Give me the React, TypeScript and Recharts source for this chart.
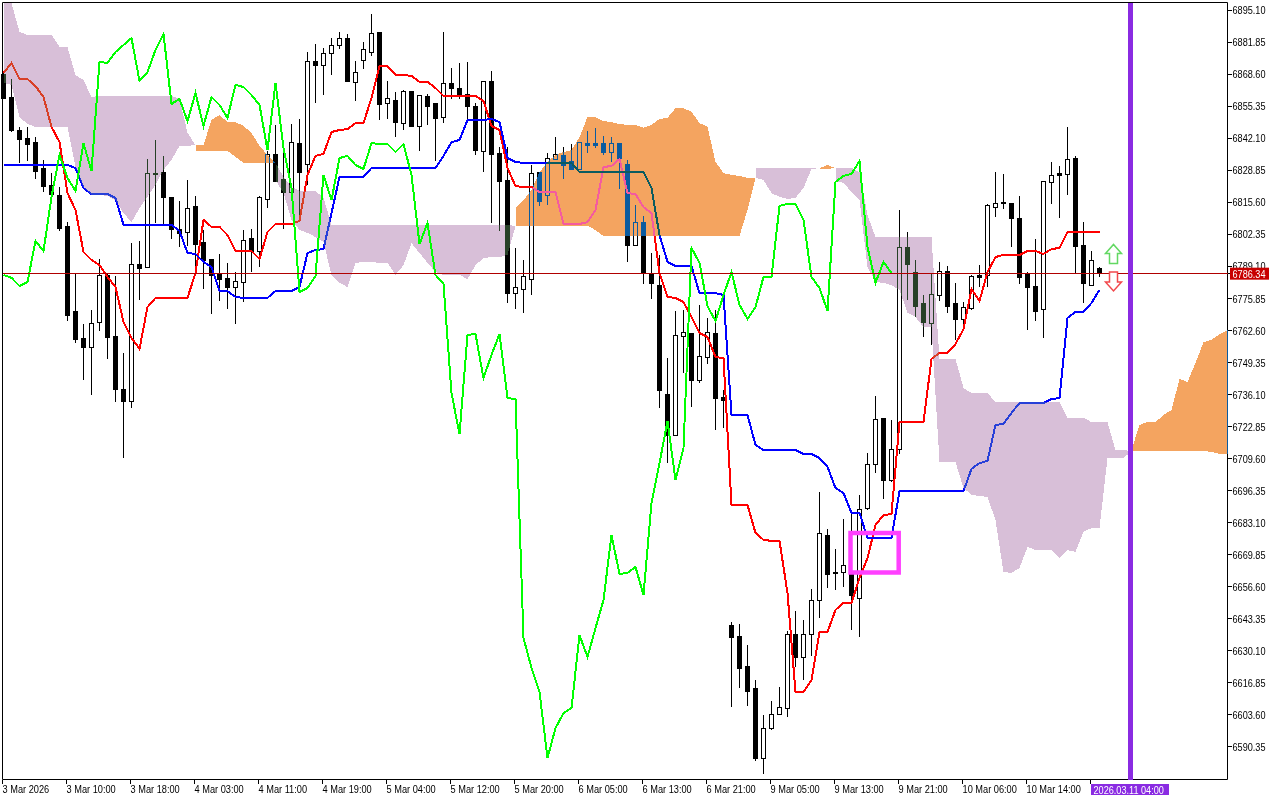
import React from "react";
import {
  ComposedChart,
  Bar,
  Line,
  Area,
  XAxis,
  YAxis,
  ReferenceLine,
  ReferenceArea,
  ReferenceDot,
} from "recharts";

const FONT = "'Liberation Sans', sans-serif";
const priceMin = 6576.69;
const priceMax = 6898.41;
const indexMin = -0.125;
const indexMax = 153;
const currentPrice = 6786.34;
const cursorIndex = 140.875;

const priceTicks = [
  6895.1, 6881.85, 6868.6, 6855.35, 6842.1, 6828.85, 6815.6, 6802.35, 6789.1, 6775.85, 6762.6, 6749.35,
  6736.1, 6722.85, 6709.6, 6696.35, 6683.1, 6669.85, 6656.6, 6643.35, 6630.1, 6616.85, 6603.6, 6590.35,
];
const timeLabels = [
  "3 Mar 2026", "3 Mar 10:00", "3 Mar 18:00", "4 Mar 03:00", "4 Mar 11:00", "4 Mar 19:00",
  "5 Mar 04:00", "5 Mar 12:00", "5 Mar 20:00", "6 Mar 05:00", "6 Mar 13:00", "6 Mar 21:00",
  "9 Mar 05:00", "9 Mar 13:00", "9 Mar 21:00", "10 Mar 06:00", "10 Mar 14:00", "2026.03.11 04:00",
];
const timeTickIndexes = [
  -0.125, 7.875, 15.875, 23.875, 31.875, 39.875, 47.875, 55.875, 63.875, 71.875, 79.875, 87.875, 95.875,
  103.875, 111.875, 119.875, 127.875, 135.875,
];

// open, high, low, close
const candles = [
  [6868.4, 6869.6, 6858.5, 6858.5], [6858.9, 6867.1, 6844.8, 6845.6], [6845.6, 6846.9, 6832.0, 6841.5], [6842.3, 6846.9, 6832.8, 6839.8],
  [6840.6, 6843.1, 6825.7, 6828.6], [6829.5, 6833.2, 6820.0, 6822.4], [6822.8, 6828.2, 6819.1, 6819.1], [6818.7, 6822.4, 6803.8, 6805.0],
  [6805.5, 6807.9, 6766.9, 6769.0], [6770.3, 6786.4, 6757.8, 6758.7], [6759.1, 6765.3, 6742.5, 6755.4], [6755.4, 6771.1, 6735.9, 6765.7],
  [6766.1, 6792.6, 6762.8, 6785.2], [6785.2, 6786.8, 6751.2, 6759.9], [6760.3, 6785.2, 6733.0, 6738.0], [6738.0, 6753.3, 6710.2, 6733.4],
  [6733.4, 6799.2, 6730.9, 6790.1], [6790.1, 6799.7, 6775.6, 6788.1], [6788.5, 6834.0, 6788.5, 6827.8], [6827.8, 6841.5, 6807.5, 6827.0],
  [6828.2, 6834.9, 6806.3, 6817.5], [6817.5, 6817.9, 6800.9, 6804.6], [6804.6, 6816.6, 6797.2, 6802.6], [6803.0, 6825.3, 6798.0, 6813.3],
  [6814.1, 6818.3, 6788.9, 6798.4], [6799.2, 6804.6, 6779.8, 6791.4], [6792.2, 6792.2, 6769.5, 6785.2], [6785.6, 6794.3, 6775.2, 6783.9],
  [6784.3, 6790.6, 6771.9, 6780.6], [6780.6, 6787.2, 6765.7, 6782.7], [6782.3, 6804.6, 6774.8, 6799.7], [6800.5, 6805.0, 6787.2, 6795.5],
  [6795.5, 6818.7, 6788.9, 6817.5], [6817.0, 6837.3, 6813.7, 6835.3], [6835.3, 6847.7, 6824.5, 6824.5], [6825.3, 6837.3, 6805.0, 6819.9],
  [6819.9, 6848.5, 6819.9, 6840.6], [6840.2, 6850.2, 6810.8, 6828.2], [6831.5, 6878.3, 6822.9, 6873.8], [6873.8, 6881.6, 6856.8, 6872.5],
  [6872.5, 6879.6, 6860.5, 6877.5], [6877.5, 6884.1, 6868.8, 6880.8], [6880.8, 6886.2, 6879.2, 6883.7], [6883.3, 6885.4, 6865.5, 6865.5],
  [6865.1, 6874.6, 6858.0, 6869.6], [6874.2, 6882.1, 6870.9, 6878.8], [6877.9, 6893.7, 6876.3, 6885.4], [6885.8, 6886.2, 6849.8, 6856.0],
  [6856.4, 6866.3, 6850.2, 6858.5], [6858.0, 6861.4, 6843.1, 6848.9], [6848.5, 6862.2, 6846.0, 6861.4], [6861.4, 6861.8, 6846.9, 6846.9],
  [6846.9, 6860.1, 6837.3, 6859.7], [6859.3, 6860.9, 6848.1, 6855.5], [6856.4, 6857.2, 6832.8, 6850.2], [6850.6, 6886.6, 6848.9, 6864.7],
  [6864.7, 6871.3, 6858.5, 6862.6], [6863.0, 6873.4, 6858.5, 6859.7], [6860.5, 6873.8, 6849.8, 6855.5], [6855.5, 6857.2, 6835.3, 6837.3],
  [6836.9, 6865.5, 6828.6, 6865.5], [6865.9, 6870.1, 6807.5, 6835.3], [6835.7, 6838.6, 6804.2, 6824.5], [6824.9, 6838.6, 6774.0, 6778.1],
  [6778.1, 6796.8, 6771.9, 6780.2], [6779.4, 6792.2, 6769.9, 6784.8], [6783.9, 6831.5, 6777.3, 6827.4], [6828.2, 6828.2, 6814.2, 6816.2],
  [6818.7, 6836.1, 6814.6, 6834.0], [6833.2, 6843.1, 6833.2, 6835.3], [6834.9, 6838.6, 6825.7, 6831.1], [6832.4, 6840.2, 6829.1, 6829.1],
  [6829.1, 6840.6, 6829.1, 6840.6], [6840.2, 6845.6, 6836.1, 6839.4], [6840.2, 6846.5, 6838.2, 6839.4], [6840.2, 6843.5, 6835.3, 6836.1],
  [6836.1, 6843.1, 6832.4, 6840.2], [6840.2, 6840.6, 6821.6, 6834.0], [6831.5, 6833.2, 6791.0, 6798.0], [6798.0, 6814.6, 6797.6, 6807.5],
  [6807.5, 6810.4, 6781.9, 6786.0], [6786.4, 6794.7, 6776.0, 6781.9], [6781.4, 6793.9, 6730.9, 6737.6], [6736.3, 6751.6, 6708.1, 6719.3],
  [6719.3, 6770.7, 6719.3, 6760.7], [6760.3, 6771.5, 6745.4, 6761.6], [6761.2, 6761.6, 6731.3, 6742.1], [6741.7, 6773.2, 6740.9, 6752.0],
  [6751.6, 6767.8, 6749.1, 6761.6], [6761.2, 6771.1, 6721.8, 6734.6], [6735.0, 6738.0, 6722.6, 6733.8], [6640.3, 6642.3, 6607.1, 6635.3],
  [6635.7, 6641.1, 6614.6, 6622.5], [6623.3, 6632.4, 6607.5, 6613.3], [6614.2, 6617.9, 6584.4, 6585.2], [6585.2, 6603.4, 6579.0, 6598.0],
  [6597.6, 6609.2, 6597.2, 6603.8], [6603.8, 6615.4, 6603.8, 6606.3], [6605.9, 6638.2, 6602.6, 6636.9], [6636.9, 6646.5, 6623.3, 6627.0],
  [6627.4, 6643.1, 6618.3, 6636.9], [6636.9, 6655.6, 6628.2, 6651.0], [6651.0, 6696.1, 6643.6, 6678.4], [6677.9, 6680.8, 6656.0, 6661.4],
  [6662.6, 6672.5, 6655.2, 6662.2], [6662.6, 6684.6, 6656.4, 6665.1], [6662.6, 6687.0, 6638.6, 6652.7], [6651.8, 6694.5, 6636.1, 6688.3],
  [6689.1, 6711.9, 6688.3, 6707.3], [6707.3, 6735.5, 6704.0, 6725.6], [6726.0, 6726.0, 6693.2, 6700.3], [6700.3, 6725.6, 6699.9, 6713.5],
  [6713.5, 6812.9, 6711.5, 6796.8], [6796.8, 6803.4, 6775.6, 6790.1], [6786.8, 6792.2, 6768.2, 6772.7], [6773.6, 6777.7, 6760.3, 6766.1],
  [6765.7, 6786.4, 6757.0, 6777.7], [6776.9, 6791.0, 6775.2, 6787.2], [6787.2, 6789.7, 6769.9, 6772.7], [6773.6, 6782.3, 6758.7, 6767.0],
  [6767.0, 6774.8, 6764.0, 6772.3], [6771.9, 6785.6, 6771.1, 6784.8], [6785.2, 6790.1, 6781.0, 6784.4], [6785.2, 6815.0, 6781.0, 6814.2],
  [6813.7, 6828.6, 6810.0, 6815.0], [6815.4, 6827.4, 6813.3, 6815.0], [6815.0, 6815.4, 6797.2, 6808.8], [6808.8, 6818.7, 6781.9, 6784.4],
  [6785.6, 6787.2, 6763.2, 6780.2], [6781.0, 6800.9, 6766.9, 6770.3], [6771.1, 6824.5, 6759.5, 6824.5], [6823.7, 6832.4, 6815.0, 6826.6],
  [6827.4, 6831.1, 6809.2, 6826.6], [6827.0, 6846.9, 6819.1, 6833.2], [6834.0, 6834.9, 6786.4, 6797.2], [6798.0, 6807.9, 6774.4, 6781.9],
  [6781.4, 6795.9, 6781.4, 6791.4], [6788.1, 6789.3, 6784.8, 6786.0],
];

const tenkan = [
  6869.2, 6873.4, 6866.7, 6866.7, 6863.8, 6859.3, 6846.9, 6840.6, 6819.5, 6812.5, 6795.1, 6791.8, 6789.7, 6784.8, 6780.6, 6766.1, 6759.5, 6755.0, 6772.3,
  6776.1, 6776.1, 6776.1, 6776.1, 6776.1, 6786.4, 6808.4, 6805.5, 6805.5, 6802.1, 6795.5, 6795.5, 6795.5, 6792.2, 6803.4, 6806.7, 6806.7, 6806.7, 6808.0,
  6827.0, 6834.9, 6835.7, 6844.8, 6845.6, 6846.0, 6848.5, 6848.5, 6858.9, 6872.1, 6872.1, 6868.4, 6868.4, 6868.0, 6865.5, 6865.5, 6863.0,
  6859.7, 6859.7, 6859.7, 6859.7, 6859.7, 6857.6, 6847.3, 6845.6, 6829.9, 6822.4, 6822.0, 6822.0, 6819.9, 6819.9, 6819.9, 6806.7, 6806.7, 6806.7,
  6807.5, 6812.5, 6830.3, 6830.7, 6833.6, 6819.5, 6819.1, 6813.7, 6811.2, 6786.4, 6776.5, 6776.1, 6774.4, 6768.2, 6761.6, 6759.9, 6751.6, 6751.2,
  6690.4, 6690.4, 6690.4, 6678.8, 6675.9, 6675.5, 6675.5, 6653.9, 6612.9, 6612.9, 6617.9, 6637.8, 6637.8, 6646.9, 6649.8, 6649.8, 6660.1, 6668.4,
  6682.1, 6686.2, 6686.6, 6724.7, 6724.7, 6724.7, 6724.7, 6750.8, 6753.3, 6753.3, 6757.0, 6763.2, 6779.8, 6774.8, 6786.8, 6793.0, 6793.9, 6793.9, 6793.9,
  6795.5, 6795.5, 6794.3, 6796.3, 6796.8, 6803.4, 6803.4, 6803.4, 6803.4, 6803.4,
];

const kijun = [
  6831.1, 6831.1, 6831.1, 6831.1, 6831.1, 6831.1, 6831.1, 6831.1, 6831.1, 6829.9, 6821.6, 6819.1, 6819.1, 6819.1, 6817.5,
  6806.3, 6806.3, 6806.3, 6806.3, 6806.3, 6806.3, 6806.3, 6803.8, 6794.7, 6794.3, 6791.0, 6788.9, 6778.9, 6778.9, 6776.5,
  6776.1, 6776.1, 6776.1, 6776.1, 6778.9, 6778.9, 6778.9, 6780.6, 6794.7, 6795.9, 6796.3, 6811.2, 6826.2, 6826.2, 6826.2, 6826.2,
  6829.9, 6829.9, 6829.9, 6829.9, 6829.9, 6829.9, 6829.9, 6829.9, 6829.9, 6834.9, 6840.6, 6841.5, 6849.8, 6849.8, 6849.8, 6850.2, 6848.9, 6834.0, 6832.4,
  6832.0, 6832.0, 6832.0, 6832.0, 6832.0, 6832.0, 6832.0, 6828.2, 6828.2, 6828.2, 6828.2, 6828.2, 6828.2, 6828.2, 6828.2, 6828.2,
  6821.6, 6802.1, 6791.0, 6789.3, 6789.3, 6789.3, 6778.1, 6778.1, 6778.1, 6777.3, 6727.6, 6727.6, 6727.6, 6715.2,
  6713.1, 6713.1, 6713.1, 6713.1, 6713.1, 6711.5, 6711.5, 6709.8, 6706.1, 6697.4, 6695.3, 6687.0, 6687.0, 6676.7, 6676.7, 6676.7, 6676.7,
  6696.1, 6696.1, 6696.1, 6696.1, 6696.1, 6696.1, 6696.1, 6696.1, 6696.1, 6705.3, 6707.7, 6708.6, 6723.5, 6723.9, 6728.5,
  6732.6, 6732.6, 6732.6, 6732.6, 6734.2, 6734.6, 6767.8, 6770.3, 6770.3, 6774.0, 6779.4,
];

const chikou = [
  6785.6, 6784.4, 6781.0, 6782.7, 6799.7, 6795.5, 6817.9, 6835.3, 6825.7, 6820.4, 6840.2, 6828.6, 6873.8, 6873.4, 6877.9, 6880.8, 6883.7, 6865.9, 6869.6, 6878.8,
  6885.4, 6856.4, 6858.5, 6849.3, 6860.9, 6847.3, 6859.3, 6856.0, 6850.6, 6864.3, 6863.4, 6860.1, 6856.0, 6837.3, 6865.1, 6838.2, 6821.6, 6778.5, 6780.2, 6785.2,
  6827.0, 6816.6, 6834.0, 6834.9, 6831.1, 6829.5, 6840.2, 6839.8, 6839.8, 6836.5, 6839.8, 6827.0, 6798.4, 6807.1, 6785.6, 6781.9, 6736.7, 6719.7, 6760.7, 6761.2,
  6742.9, 6752.5, 6761.2, 6734.6, 6734.2, 6635.3, 6622.9, 6612.9, 6585.6, 6598.0, 6604.2, 6606.3, 6636.5, 6627.4, 6639.4, 6651.0, 6677.9, 6661.8, 6662.2, 6664.7,
  6653.1, 6691.2, 6707.7, 6725.1, 6700.7, 6714.0, 6796.8, 6790.6, 6772.7, 6766.5, 6777.3, 6786.8, 6773.2, 6767.4, 6772.3, 6784.8, 6784.8, 6814.2, 6815.0, 6815.0,
  6808.4, 6784.8, 6780.2, 6770.7, 6824.1, 6826.6, 6827.4, 6832.8, 6797.2, 6782.3, 6791.0, 6786.4,
];

const senkouA = [
  6865.1, 6864.3, 6851.0, 6848.1, 6846.9, 6846.9, 6846.9, 6846.9, 6846.9, 6830.3, 6822.0, 6818.7, 6818.7, 6818.3, 6816.6, 6811.2, 6807.5, 6813.3, 6817.9, 6822.9,
  6829.1, 6833.2, 6839.0, 6839.0,
  6839.4, 6839.4, 6849.8, 6851.8, 6848.9, 6848.9, 6847.3, 6844.4, 6839.0, 6835.3,
  6824.9, 6819.5, 6808.4, 6804.2, 6803.0, 6801.3, 6799.2, 6785.6, 6782.3, 6780.6, 6790.6, 6791.0, 6791.0, 6790.6, 6790.6, 6785.6, 6789.7, 6798.8, 6794.7, 6790.6,
  6786.8, 6785.6, 6785.6, 6785.6, 6783.9, 6789.7, 6792.6, 6793.0, 6793.0, 6793.9,
  6813.3, 6816.6, 6820.8, 6828.2, 6832.4, 6835.3, 6836.5, 6837.3, 6842.7, 6851.0, 6851.0, 6849.3, 6848.9, 6848.1, 6847.7, 6847.7, 6846.5, 6847.7, 6850.2, 6850.6,
  6854.7, 6854.7, 6853.1, 6848.5, 6846.9, 6832.4, 6827.8, 6827.0, 6826.6, 6825.8,
  6825.8, 6824.9, 6819.5, 6817.9, 6817.1, 6817.5, 6821.6, 6829.5,
  6829.9, 6831.1,
  6824.5, 6823.7, 6820.0, 6816.6, 6788.9, 6782.7, 6782.3, 6781.4, 6779.4, 6769.9, 6768.2, 6764.0, 6764.0, 6708.1, 6708.1, 6708.1, 6697.4, 6694.5, 6694.1, 6693.7,
  6684.1, 6662.6, 6662.2, 6664.3, 6673.0, 6671.7, 6671.7, 6671.7, 6668.4, 6671.7, 6670.9, 6679.2, 6680.8, 6680.8, 6709.8, 6709.8, 6709.8,
  6713.1, 6723.5, 6724.7, 6724.7, 6727.6, 6729.7, 6742.5, 6741.3, 6749.1, 6757.8, 6758.7, 6761.1, 6762.8,
];

const senkouB = [
  6898.4, 6898.2, 6886.2, 6885.0, 6885.0, 6885.0, 6885.0, 6880.0, 6880.0, 6868.4, 6866.3, 6859.3, 6859.7, 6859.7, 6859.7, 6859.7, 6859.7, 6859.7, 6859.7, 6859.7,
  6859.7, 6859.7, 6858.5, 6844.4,
  6836.9, 6836.9, 6836.9, 6836.9, 6836.9, 6834.5, 6832.0, 6832.0, 6832.0, 6832.0,
  6832.0, 6826.2, 6822.0, 6820.4, 6820.4, 6820.4, 6817.5, 6806.3, 6806.3, 6806.3, 6806.3, 6806.3, 6806.3, 6806.3, 6806.3, 6806.3, 6806.3, 6806.3, 6806.3, 6806.3,
  6806.3, 6806.3, 6806.3, 6806.3, 6806.3, 6806.3, 6806.3, 6806.3, 6806.3, 6806.3,
  6805.9, 6805.9, 6805.9, 6805.9, 6805.9, 6805.9, 6805.9, 6805.9, 6805.9, 6805.9, 6804.2, 6801.7, 6801.7, 6801.7, 6801.7, 6801.7, 6801.7, 6801.7, 6801.7, 6801.7,
  6801.7, 6801.7, 6801.7, 6801.7, 6801.7, 6801.7, 6801.7, 6801.7, 6801.7, 6812.5,
  6829.9, 6829.9, 6829.9, 6829.9, 6829.9, 6829.9, 6829.9, 6829.9,
  6829.5, 6829.5,
  6829.9, 6829.9, 6829.9, 6828.2, 6810.4, 6801.3, 6801.3, 6801.3, 6801.3, 6801.3, 6801.3, 6801.3, 6801.3, 6750.8, 6750.8, 6750.8, 6738.8, 6736.7, 6736.7, 6736.7,
  6733.0, 6733.0, 6733.0, 6733.0, 6733.0, 6733.0, 6733.0, 6733.0, 6733.0, 6726.4, 6726.4, 6726.4, 6724.7, 6724.7, 6724.7, 6713.1, 6713.1,
  6712.7, 6712.7, 6712.7, 6712.7, 6712.7, 6712.7, 6712.7, 6712.7, 6712.7, 6712.7, 6712.3, 6711.5, 6711.5,
];

const noteBox = { x1: 105.875, x2: 111.9, top: 6678.8, bottom: 6662.4 };
const arrowMarks = [
  { index: 138.75, price: 6794.5, dir: "up", color: "#62d862" },
  { index: 138.75, price: 6782.7, dir: "down", color: "#f2484c" },
];

const chartData = senkouA.map((a, i) => {
  const b = senkouB[i];
  const c = candles[i];
  const isBull = a > b;
  const range = [Math.min(a, b), Math.max(a, b)];
  // a cloud colour closes to a point where the next bar changes colour
  let tip: number[] | null = null;
  if (i > 0 && senkouA[i - 1] > senkouB[i - 1] !== isBull) {
    const prevMid = (senkouA[i - 1] + senkouB[i - 1]) / 2;
    const near = Math.abs(a - prevMid) < Math.abs(b - prevMid) ? a : b;
    tip = [near, near];
  }
  return {
    i,
    candle: c ? { o: c[0], h: c[1], l: c[2], c: c[3] } : null,
    range: c ? [c[2], c[1]] : null,
    tenkan: i < tenkan.length ? tenkan[i] : null,
    kijun: i < kijun.length ? kijun[i] : null,
    chikou: i < chikou.length ? chikou[i] : null,
    bull: isBull ? range : tip,
    bear: !isBull ? range : tip,
  };
});

function CandleShape(props: any) {
  const { x, y, width, height, payload } = props;
  const cd = payload && payload.candle;
  if (!cd || !(height > 0)) return null;
  const k = height / (cd.h - cd.l);
  const cx = Math.floor(x + width / 2) + 0.5;
  const row = (p: number) => Math.floor(y + (cd.h - p) * k) + 0.5;
  const top = row(Math.max(cd.o, cd.c));
  const bottom = row(Math.min(cd.o, cd.c));
  const bearish = cd.c < cd.o;
  return (
    <g shapeRendering="crispEdges">
      <line x1={cx} x2={cx} y1={row(cd.h)} y2={row(cd.l)} stroke="#000" strokeWidth={1} />
      <rect x={cx - 2} y={top} width={4} height={Math.max(bottom - top, 1)} fill={bearish ? "#000" : "#fff"} stroke="#000" strokeWidth={1} />
    </g>
  );
}

function Label(props: any) {
  const { x, y, fill, children, sx } = props;
  return (
    <text transform={`translate(${x},${y}) scale(${sx},1)`} fontFamily={FONT} fontSize={11} fill={fill}>{children}</text>
  );
}

function TimeTick(props: any) {
  const { x, payload } = props;
  const pos = timeTickIndexes.indexOf(payload.value);
  const label = timeLabels[pos];
  if (label === undefined) return null;
  if (pos === timeLabels.length - 1) {
    return (
      <g>
        <rect x={x + 0.5} y={784} width={78} height={11} fill="#8a2be2" />
        <Label x={x + 3} y={793.5} fill="#fff" sx={0.83}>{label}</Label>
      </g>
    );
  }
  return <Label x={x} y={793} fill="#000" sx={0.84}>{label}</Label>;
}

function PriceTick(props: any) {
  const { y, payload } = props;
  if (payload.value === currentPrice) {
    return (
      <g>
        <rect x={1230} y={y - 5.5} width={39} height={12} fill="#c80000" />
        <Label x={1232.5} y={y + 4.5} fill="#fff" sx={0.83}>{payload.value.toFixed(2)}</Label>
      </g>
    );
  }
  return <Label x={1232.5} y={y + 4} fill="#000" sx={0.83}>{payload.value.toFixed(2)}</Label>;
}

function ArrowShape(props: any) {
  const { cx, cy, dir, color } = props;
  const s = dir === "up" ? -1 : 1;
  const pts = [
    [cx - 4, cy - s * 10],
    [cx + 4, cy - s * 10],
    [cx + 4, cy],
    [cx + 8, cy],
    [cx, cy + s * 9],
    [cx - 8, cy],
    [cx - 4, cy],
  ].map((p) => p.join(",")).join(" ");
  return <polygon points={pts} fill="#fff" stroke={color} strokeWidth={1.5} />;
}

export default function App() {
  return (
    <div style={{ position: "absolute", left: 0, top: 0, width: 1280, height: 800, background: "#fff", isolation: "isolate" }}>
      <style>{`.kumo{mix-blend-mode:difference}.kumo path{shape-rendering:crispEdges}.recharts-line-curve{shape-rendering:crispEdges}.recharts-reference-line-line,.recharts-cartesian-axis-tick-line{shape-rendering:crispEdges}`}</style>
      <ComposedChart
        width={1280}
        height={800}
        data={chartData}
        margin={{ left: 2.5, right: 0, top: 2.5, bottom: 0 }}
      >
        <XAxis
          dataKey="i"
          type="number"
          scale="linear"
          domain={[indexMin, indexMax]}
          ticks={timeTickIndexes}
          interval={0}
          height={20.5}
          axisLine={false}
          tickLine={{ stroke: "#000" }}
          tickSize={4}
          tick={<TimeTick />}
        />
        <YAxis
          orientation="right"
          type="number"
          domain={[priceMin, priceMax]}
          ticks={[...priceTicks, currentPrice]}
          interval={0}
          width={52.5}
          axisLine={false}
          tickLine={{ stroke: "#000" }}
          tickSize={4}
          tick={<PriceTick />}
        />
        <ReferenceArea x1={indexMin} x2={indexMax} y1={priceMin} y2={priceMax} fill="#fff" stroke="#000" strokeWidth={1} zIndex={0} />
        <Bar dataKey="range" barSize={7} shape={<CandleShape />} isAnimationActive={false} zIndex={300} />
        <Line dataKey="tenkan" stroke="#ff0000" strokeWidth={2} dot={false} activeDot={false} isAnimationActive={false} zIndex={310} />
        <Line dataKey="kijun" stroke="#0000ff" strokeWidth={2} dot={false} activeDot={false} isAnimationActive={false} zIndex={320} />
        <Area className="kumo" dataKey="bull" stroke="none" fill="#0b5b9f" fillOpacity={1} dot={false} activeDot={false} isAnimationActive={false} zIndex={330} />
        <Area className="kumo" dataKey="bear" stroke="none" fill="#274027" fillOpacity={1} dot={false} activeDot={false} isAnimationActive={false} zIndex={331} />
        <Line dataKey="chikou" stroke="#00ff00" strokeWidth={2} dot={false} activeDot={false} isAnimationActive={false} zIndex={340} />
        <ReferenceLine y={currentPrice} stroke="#b00000" strokeWidth={1} zIndex={350} />
        <ReferenceLine x={cursorIndex} stroke="#8a2be2" strokeWidth={5} zIndex={351} />
        <ReferenceArea
          x1={noteBox.x1}
          x2={noteBox.x2}
          y1={noteBox.bottom}
          y2={noteBox.top}
          fill="none"
          stroke="#ff40ff"
          strokeWidth={4.5}
          zIndex={352}
        />
        {arrowMarks.map((m) => (
          <ReferenceDot
            key={m.dir}
            x={m.index}
            y={m.price}
            zIndex={353}
            shape={(p: any) => <ArrowShape {...p} dir={m.dir} color={m.color} />}
          />
        ))}
      </ComposedChart>
    </div>
  );
}
